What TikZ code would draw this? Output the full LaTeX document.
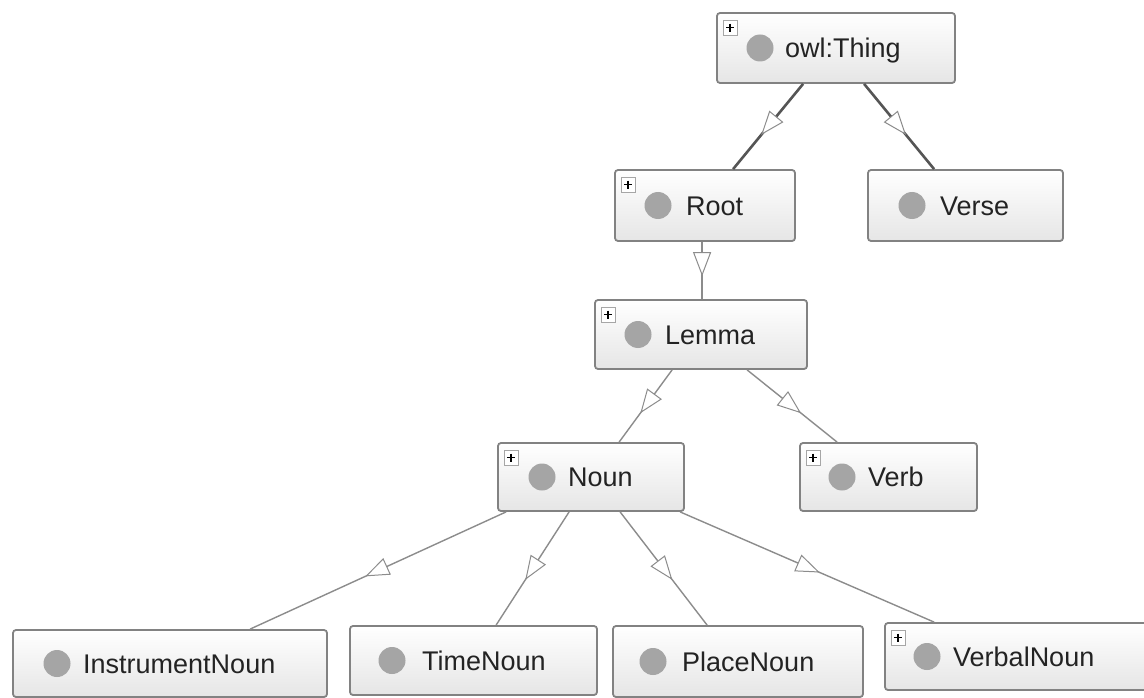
\documentclass[tikz,border=0pt]{standalone}
\usepackage{fontspec}
\setmainfont{Liberation Sans}
\usetikzlibrary{arrows.meta,calc,decorations.markings}
\definecolor{boxline}{RGB}{130,130,130}
\definecolor{dotgray}{RGB}{165,165,165}
\definecolor{txt}{RGB}{35,35,35}
\definecolor{darkedge}{RGB}{85,85,85}
\definecolor{lightedge}{RGB}{140,140,140}
\tikzset{
  clsbox/.style={draw=boxline, line width=1.8pt, rounded corners=3pt, top color=white, bottom color=gray!20, inner sep=0pt},
  lbl/.style={inner sep=0pt, text=txt, font=\fontsize{27}{30}\selectfont},
  plusbox/.style={draw=gray!70, fill=white, line width=0.8pt},
  edgedark/.style={draw=darkedge, line width=2.6pt},
  edgelight/.style={draw=lightedge, line width=1.4pt},
  withtri/.style={postaction={decorate}, decoration={markings, mark=at position #1 with {\arrow{Triangle[open, fill=white, length=24pt, width=18pt, line width=1pt, color=lightedge]}}}},
  withtri/.default=0.55
}
% #1 name, #2 left, #3 top, #4 right, #5 bottom, #6 circle x, #7 text x, #8 text
\newcommand{\owlbox}[8]{%
  \node[clsbox, minimum width={#4-#2}, minimum height={#5-#3}] (#1) at ({(#2+#4)/2},{(#3+#5)/2}) {};
  \fill[dotgray] (#6,{(#3+#5)/2}) circle (13.5);
  \node[lbl, anchor=base west] (#1-t) at (#7,{(#3+#5)/2+9.5}) {#8};
}
\newcommand{\owlplus}[1]{%
  \draw[plusbox] ($(#1.north west)+(7,8)$) rectangle ($(#1.north west)+(21,23)$);
  \draw[black, line width=1.3pt] ($(#1.north west)+(10,15.5)$) -- ($(#1.north west)+(18,15.5)$);
  \draw[black, line width=1.3pt] ($(#1.north west)+(14,11.5)$) -- ($(#1.north west)+(14,19.5)$);
}
\begin{document}
\begin{tikzpicture}[x=1pt,y=-1pt]
\useasboundingbox (0,0) rectangle (1144,698);
\clip (0,0) rectangle (1144,698);
\fill[white] (0,0) rectangle (1144,698);

\owlbox{thing}{717}{13}{955}{83}{760}{785}{owl:Thing}
\owlbox{root}{615}{170}{795}{241}{658}{686}{Root}
\owlbox{verse}{868}{170}{1063}{241}{912}{940}{Verse}
\owlbox{lemma}{595}{300}{807}{369}{638}{665}{Lemma}
\owlbox{noun}{498}{443}{684}{511}{542}{568}{Noun}
\owlbox{verb}{800}{443}{977}{511}{842}{868}{Verb}
\owlbox{instr}{13}{630}{327}{697}{57}{83}{InstrumentNoun}
\owlbox{time}{350}{626}{597}{695}{392}{422}{TimeNoun}
\owlbox{place}{613}{626}{863}{697}{653}{682}{PlaceNoun}
\owlbox{verbal}{885}{623}{1170}{690}{927}{953}{VerbalNoun}

\owlplus{thing}
\owlplus{root}
\owlplus{lemma}
\owlplus{noun}
\owlplus{verb}
\owlplus{verbal}

\draw[edgedark, withtri=0.6] ($(thing.south west)+(87,0)$) -- ($(root.north west)+(119,0)$);
\draw[edgedark, withtri=0.6] ($(thing.south west)+(148,0)$) -- ($(verse.north west)+(67,0)$);
\draw[edgelight, withtri=0.6] ($(root.south west)+(88,0)$) -- ($(lemma.north west)+(108,0)$);
\draw[edgelight, withtri=0.6] ($(lemma.south west)+(78,0)$) -- ($(noun.north west)+(122,0)$);
\draw[edgelight, withtri=0.6] ($(lemma.south west)+(153,0)$) -- ($(verb.north west)+(38,0)$);
\draw[edgelight, withtri=0.55] ($(noun.south west)+(9,0)$) -- ($(instr.north west)+(238,0)$);
\draw[edgelight, withtri=0.6] ($(noun.south west)+(72,0)$) -- ($(time.north west)+(147,0)$);
\draw[edgelight, withtri=0.6] ($(noun.south west)+(123,0)$) -- ($(place.north west)+(95,0)$);
\draw[edgelight, withtri=0.55] ($(noun.south west)+(183,0)$) -- ($(verbal.north west)+(50,0)$);
\end{tikzpicture}
\end{document}
